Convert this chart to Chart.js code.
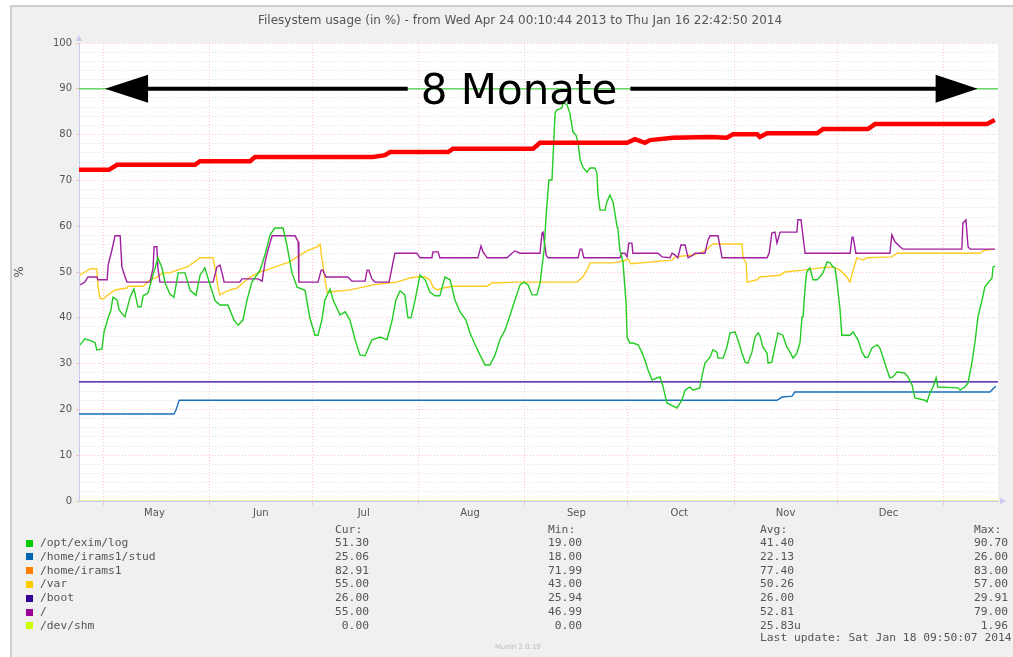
<!DOCTYPE html>
<html>
<head>
<meta charset="utf-8">
<script src="https://cdn.jsdelivr.net/npm/chart.js@4/dist/chart.umd.min.js"></script>
<style>
  html, body { margin: 0; padding: 0; background: #fff; }
  #wrap { position: relative; width: 1013px; height: 657px; overflow: hidden; }
  #chart { position: absolute; left: 0; top: 0; }
  .lg { position: absolute; font-family: "DejaVu Sans Mono", monospace; font-size: 11.3px; color: #555; white-space: pre; line-height: 14px; }
  .sw { position: absolute; width: 7px; height: 7px; }
</style>
</head>
<body>
<div id="wrap">
  <canvas id="chart" width="1013" height="657"></canvas>
  <div id="legend"></div>
</div>
<script>
// x values are days since Wed Apr 24 00:10:44 2013
const periodDays = 267.94;
const chartTitle = 'Filesystem usage (in %) - from Wed Apr 24 00:10:44 2013 to Thu Jan 16 22:42:50 2014';

const monthStarts = [7, 38, 68, 99, 130, 160, 191, 221, 252];
const monthLabelDays = [22, 53, 83, 114, 145, 175, 206, 236];
const monthNames = ['May', 'Jun', 'Jul', 'Aug', 'Sep', 'Oct', 'Nov', 'Dec'];

// /opt/exim/log
const eximDays = [
  0.3, 1.7, 3.8, 4.7, 5.2, 6.7, 7.3, 8.5, 9.3, 9.9,
  11.1, 11.7, 13.4, 14.9, 16.0, 17.2, 18.1, 18.7, 20.1, 21.0,
  22.2, 23.0, 24.2, 25.1, 26.5, 27.7, 28.9, 30.9, 32.4, 34.1,
  35.3, 36.7, 38.2, 39.7, 41.1, 43.4, 45.2, 46.4, 47.8, 49.0,
  50.4, 52.8, 54.2, 55.7, 57.1, 59.5, 60.6, 62.1, 63.6, 65.9,
  67.3, 68.8, 69.7, 70.8, 71.7, 73.2, 74.1, 76.1, 77.6, 79.0,
  80.5, 81.9, 83.4, 85.4, 87.8, 89.8, 91.3, 92.4, 93.6, 95.0,
  95.9, 96.8, 98.0, 99.4, 100.9, 102.3, 103.8, 105.2, 106.7, 108.2,
  109.6, 111.1, 112.8, 114.0, 115.5, 116.9, 118.4, 119.8, 121.3, 122.7,
  124.2, 125.7, 127.1, 128.6, 129.7, 130.9, 132.1, 133.5, 134.4, 135.6,
  136.2, 137.0, 137.9, 138.8, 139.4, 140.8, 141.1, 142.3, 143.1, 144.0,
  144.9, 145.5, 146.1, 146.9, 148.1, 149.0, 150.4, 151.0, 151.3, 151.9,
  153.4, 153.9, 154.8, 155.7, 156.9, 157.1, 157.7, 158.6, 159.5, 159.8,
  160.6, 161.5, 163.0, 164.1, 165.0, 165.9, 167.1, 168.2, 169.4, 170.3,
  171.4, 173.8, 174.3, 175.8, 176.7, 178.1, 179.0, 181.0, 181.6, 182.5,
  184.0, 184.8, 186.0, 186.3, 187.8, 188.9, 189.8, 191.3, 192.1, 193.3,
  194.2, 195.0, 196.2, 197.1, 198.0, 198.5, 199.4, 200.6, 200.9, 202.0,
  202.9, 203.8, 205.2, 206.4, 207.3, 208.2, 209.3, 210.2, 210.8, 211.1,
  211.7, 212.2, 213.1, 214.0, 215.2, 216.0, 216.9, 218.1, 219.0, 219.8,
  220.4, 221.0, 221.9, 222.4, 224.8, 225.7, 227.1, 228.3, 229.2, 230.0,
  231.2, 232.7, 233.5, 234.4, 235.6, 236.4, 237.3, 238.5, 240.8, 241.7,
  242.9, 243.7, 246.6, 247.2, 248.1, 249.0, 249.9, 250.4, 256.3, 256.9,
  258.3, 259.2, 260.3, 261.2, 262.1, 263.3, 264.1, 265.0, 266.2, 266.5,
  267.1
];
const eximVals = [
  34.1, 35.4, 34.9, 34.5, 33.0, 33.2, 36.9, 40.0, 41.7, 44.5,
  43.9, 41.7, 40.2, 44.5, 46.3, 42.4, 42.4, 44.8, 45.4, 47.8,
  50.9, 53.1, 50.9, 47.6, 45.2, 44.5, 49.8, 49.8, 46.0, 44.9,
  49.3, 50.9, 47.2, 43.7, 42.8, 42.8, 39.5, 38.4, 39.5, 43.9,
  47.8, 50.4, 53.7, 58.1, 59.6, 59.6, 55.9, 49.8, 46.7, 46.0,
  40.0, 36.2, 36.2, 39.5, 43.9, 46.3, 43.9, 40.6, 41.3, 39.5,
  35.2, 31.9, 31.7, 35.2, 35.8, 35.2, 39.5, 43.9, 45.9, 45.0,
  40.0, 40.0, 43.9, 49.3, 48.3, 45.6, 44.8, 44.8, 48.9, 48.3,
  43.9, 41.3, 39.5, 36.7, 34.1, 31.9, 29.7, 29.7, 31.9, 35.2,
  37.3, 40.6, 43.9, 47.2, 47.8, 47.2, 45.0, 45.0, 47.5, 54.8,
  62.4, 70.1, 70.1, 84.7, 85.4, 85.8, 87.1, 86.5, 84.7, 80.6,
  79.9, 78.2, 74.5, 72.9, 71.8, 72.7, 72.7, 71.6, 67.2, 63.5,
  63.5, 65.3, 66.8, 65.3, 59.8, 59.6, 54.8, 52.2, 43.2, 35.8,
  34.5, 34.5, 34.1, 32.5, 30.8, 28.6, 26.4, 26.8, 27.1, 24.9,
  21.4, 20.5, 20.3, 22.0, 24.2, 24.9, 24.2, 24.7, 27.1, 30.1,
  31.4, 33.0, 32.5, 31.2, 31.2, 33.6, 36.7, 36.9, 35.2, 32.3,
  30.3, 30.1, 32.5, 35.8, 36.7, 36.2, 33.6, 32.3, 30.1, 30.3,
  33.6, 36.7, 36.2, 33.6, 32.5, 31.2, 32.3, 34.5, 40.2, 40.2,
  46.7, 50.0, 50.9, 48.3, 48.3, 48.9, 49.8, 52.2, 52.0, 51.1,
  50.9, 47.8, 41.7, 36.2, 36.2, 36.9, 35.2, 32.5, 31.4, 31.4,
  33.4, 34.1, 33.4, 31.4, 28.6, 26.9, 27.1, 28.2, 27.9, 27.1,
  25.3, 22.5, 22.0, 21.6, 23.6, 24.9, 26.9, 24.9, 24.7, 24.2,
  24.9, 25.8, 30.1, 34.5, 40.2, 43.9, 46.7, 47.6, 48.7, 51.1,
  51.3
];

// /home/irams1/stud
const studDays = [0, 27.7, 28.3, 29.2, 203.5, 205.0, 207.9, 208.7, 265.6, 267.3];
const studVals = [19.0, 19.0, 19.9, 22.0, 22.0, 22.7, 22.9, 23.8, 23.8, 25.1];

// /home/irams1
const homeDays = [0, 8.7, 11.1, 33.8, 35.3, 49.9, 51.3, 85.7, 89.2, 90.7,
  107.6, 109.0, 132.4, 134.4, 159.8, 162.1, 165.0, 166.5, 173.2, 184.0,
  188.9, 190.7, 197.7, 198.5, 200.6, 215.2, 216.9, 230.0, 232.1, 264.7, 267.0];
const homeVals = [72.3, 72.3, 73.4, 73.4, 74.2, 74.2, 75.1, 75.1, 75.5, 76.2,
  76.2, 76.9, 76.9, 78.2, 78.2, 79.0, 78.2, 78.8, 79.3, 79.5,
  79.3, 80.1, 80.1, 79.5, 80.3, 80.3, 81.2, 81.2, 82.3, 82.3, 83.2];

// /var
const varDays = [
  0.3, 1.7, 3.2, 5.2, 5.5, 6.1, 7.0, 8.5, 10.5, 14.0,
  14.3, 18.7, 20.7, 22.7, 24.5, 26.5, 28.6, 31.5, 34.4, 35.3,
  39.1, 39.9, 40.5, 41.1, 42.0, 44.0, 46.1, 47.8, 49.9, 52.8,
  55.7, 58.6, 61.5, 63.6, 66.5, 69.4, 70.3, 70.8, 72.3, 79.0,
  82.8, 85.7, 89.8, 92.7, 96.5, 98.5, 100.9, 102.3, 103.2, 104.4,
  106.1, 109.0, 119.0, 120.4, 127.7, 145.2, 146.9, 148.1, 149.0, 155.7,
  158.6, 160.1, 160.9, 172.9, 173.8, 179.0, 181.9, 183.4, 184.8, 193.3,
  193.6, 194.5, 194.8, 197.7, 198.5, 204.4, 205.8, 211.1, 216.0, 219.8,
  221.9, 223.9, 224.8, 225.7, 226.8, 228.6, 229.7, 237.0, 238.5, 262.7,
  263.6, 264.7, 266.5
];
const varVals = [
  49.3, 50.0, 50.7, 50.7, 47.2, 44.3, 44.1, 45.0, 46.1, 46.5,
  46.9, 46.9, 48.3, 48.9, 49.8, 49.8, 50.4, 51.1, 52.6, 53.1,
  53.1, 49.8, 46.7, 45.0, 45.4, 46.1, 46.5, 47.6, 48.9, 50.0,
  50.7, 51.5, 52.2, 53.3, 54.6, 55.5, 56.1, 53.0, 45.6, 46.1,
  46.7, 47.2, 47.6, 47.8, 48.7, 48.9, 48.9, 48.3, 46.7, 46.1,
  46.5, 46.9, 46.9, 47.6, 47.8, 47.8, 48.9, 50.4, 52.0, 52.0,
  52.4, 52.8, 51.8, 52.6, 53.3, 53.7, 54.4, 55.2, 56.1, 56.1,
  53.1, 52.0, 47.8, 48.3, 48.9, 49.3, 50.0, 50.4, 50.9, 51.1,
  50.4, 48.9, 47.8, 50.4, 53.1, 52.6, 53.1, 53.3, 54.1, 54.1,
  54.6, 54.8, 55.0
];

// /boot
const bootDays = [0, periodDays];
const bootVals = [26.0, 26.0];

// /
const rootDays = [
  0.3, 1.7, 2.6, 5.2, 5.5, 8.2, 8.5, 9.6, 10.5, 12.0,
  12.5, 13.4, 14.0, 20.7, 21.6, 21.9, 22.7, 23.0, 23.6, 39.1,
  40.2, 41.1, 42.0, 42.3, 46.9, 47.5, 52.2, 53.4, 54.2, 55.1,
  56.3, 63.0, 63.9, 64.1, 69.7, 70.6, 71.1, 72.0, 78.4, 79.6,
  83.4, 84.0, 84.5, 85.4, 86.3, 90.4, 91.3, 92.1, 98.5, 99.4,
  102.9, 103.2, 104.7, 105.2, 116.3, 117.2, 117.8, 119.0, 124.8, 126.2,
  127.1, 128.6, 134.4, 135.0, 135.3, 136.2, 136.7, 145.5, 146.1, 146.6,
  147.2, 157.7, 158.3, 159.2, 159.8, 160.3, 161.2, 161.5, 168.8, 170.0,
  172.3, 172.9, 173.8, 174.6, 175.5, 176.7, 177.6, 179.0, 179.6, 182.5,
  183.4, 184.0, 186.3, 187.5, 200.6, 201.2, 202.0, 202.9, 203.5, 204.4,
  209.3, 209.6, 210.5, 211.7, 224.8, 225.4, 225.7, 226.5, 236.4, 237.0,
  237.9, 239.4, 240.2, 257.4, 257.7, 258.6, 259.2, 259.8, 267.1
];
const rootVals = [
  47.2, 47.8, 48.9, 48.9, 48.3, 48.3, 51.5, 54.8, 57.9, 57.9,
  51.1, 49.0, 47.8, 47.8, 50.9, 55.5, 55.5, 50.9, 47.8, 47.8,
  51.1, 51.5, 48.9, 47.8, 47.8, 48.5, 48.5, 48.0, 52.0, 54.8,
  57.9, 57.9, 56.6, 47.8, 47.8, 50.4, 50.4, 48.9, 48.9, 48.0,
  48.0, 50.4, 50.4, 48.5, 47.8, 47.8, 51.1, 54.1, 54.1, 53.1,
  53.1, 54.4, 54.4, 53.1, 53.1, 55.7, 54.4, 53.1, 53.1, 54.1,
  54.6, 54.1, 54.1, 58.5, 58.7, 53.7, 53.1, 53.1, 55.0, 55.0,
  53.1, 53.1, 54.1, 54.1, 53.3, 56.3, 56.3, 54.1, 54.1, 53.3,
  53.1, 54.1, 53.7, 53.1, 55.9, 55.9, 53.1, 53.7, 54.1, 54.1,
  57.0, 57.9, 57.9, 53.1, 53.1, 54.1, 58.5, 58.7, 56.3, 58.7,
  58.7, 61.4, 61.4, 54.1, 54.1, 57.6, 57.6, 54.1, 54.1, 58.1,
  56.6, 55.5, 55.0, 55.0, 60.7, 61.4, 55.5, 55.0, 55.0
];

// /dev/shm
const shmDays = [0, periodDays];
const shmVals = [0, 0];

// warning level line
const warnDays = [0, periodDays];
const warnVals = [90, 90];

// "8 Monate" span marker
const spanLabel = '8 Monate';
const spanFromDay = 7.6;
const spanToDay = 262;
const spanLabelDay = 128.3;
const spanLevel = 90;

// legend table
const legendNames = ['/opt/exim/log', '/home/irams1/stud', '/home/irams1', '/var', '/boot', '/', '/dev/shm'];
const legendColors = ['#00cc00', '#0066b3', '#ff8000', '#ffcc00', '#330099', '#990099', '#ccff00'];
const curVals = ['51.30', '25.06', '82.91', '55.00', '26.00', '55.00', '0.00'];
const minVals = ['19.00', '18.00', '71.99', '43.00', '25.94', '46.99', '0.00'];
const avgVals = ['41.40', '22.13', '77.40', '50.26', '26.00', '52.81', '25.83u'];
const maxVals = ['90.70', '26.00', '83.00', '57.00', '29.91', '79.00', '1.96'];
const lastUpdate = 'Last update: Sat Jan 18 09:50:07 2014';
const versionText = 'Munin 2.0.19';

const majorGrid = 'rgba(245,120,120,0.42)';
const minorGrid = 'rgba(170,170,170,0.32)';

function toPts(days, vals) {
  return days.map((d, i) => ({ x: d, y: vals[i] }));
}

function line(data, color, width) {
  return { data: data, borderColor: color, borderWidth: width, pointRadius: 0, tension: 0, fill: false };
}

const backdrop = {
  id: 'backdrop',
  beforeDraw(chart) {
    const { ctx, chartArea: a, width, height } = chart;
    ctx.save();
    ctx.fillStyle = '#fff';
    ctx.fillRect(0, 0, width, height);
    ctx.fillStyle = '#f0f0f0';
    ctx.fillRect(10, 5, width - 10, height - 5);
    ctx.strokeStyle = '#cfcfcf';
    ctx.lineWidth = 2;
    ctx.beginPath();
    ctx.moveTo(11, height);
    ctx.lineTo(11, 6);
    ctx.lineTo(width, 6);
    ctx.stroke();
    ctx.fillStyle = '#fff';
    ctx.fillRect(a.left, a.top, a.right - a.left, a.bottom - a.top);
    ctx.fillStyle = '#555';
    ctx.font = '12px "DejaVu Sans"';
    ctx.textAlign = 'center';
    ctx.textBaseline = 'middle';
    ctx.fillText(chartTitle, 520, 21);
    ctx.restore();
  },
  afterDraw(chart) {
    const { ctx, chartArea: a } = chart;
    ctx.save();
    ctx.fillStyle = '#c8c8f0';
    ctx.beginPath();
    ctx.moveTo(a.left - 3, a.top - 2);
    ctx.lineTo(a.left + 3, a.top - 2);
    ctx.lineTo(a.left, a.top - 8);
    ctx.closePath();
    ctx.fill();
    ctx.beginPath();
    ctx.moveTo(a.right + 2, a.bottom - 3);
    ctx.lineTo(a.right + 2, a.bottom + 3);
    ctx.lineTo(a.right + 8, a.bottom);
    ctx.closePath();
    ctx.fill();
    ctx.restore();
  }
};

const spanMarker = {
  id: 'spanMarker',
  afterDatasetsDraw(chart) {
    const { ctx } = chart;
    const xs = chart.scales.x, ys = chart.scales.y;
    const y = ys.getPixelForValue(spanLevel);
    const x1 = xs.getPixelForValue(spanFromDay);
    const x2 = xs.getPixelForValue(spanToDay);
    const cx = xs.getPixelForValue(spanLabelDay);
    ctx.save();
    ctx.font = '42px "DejaVu Sans"';
    const w = ctx.measureText(spanLabel).width;
    ctx.fillStyle = '#000';
    ctx.strokeStyle = '#000';
    ctx.textAlign = 'center';
    ctx.textBaseline = 'alphabetic';
    ctx.fillText(spanLabel, cx, y + 15);
    ctx.lineWidth = 4;
    ctx.beginPath();
    ctx.moveTo(x1 + 40, y);
    ctx.lineTo(cx - w / 2 - 13, y);
    ctx.moveTo(cx + w / 2 + 13, y);
    ctx.lineTo(x2 - 40, y);
    ctx.stroke();
    ctx.beginPath();
    ctx.moveTo(x1, y);
    ctx.lineTo(x1 + 43, y - 14);
    ctx.lineTo(x1 + 43, y + 14);
    ctx.closePath();
    ctx.moveTo(x2, y);
    ctx.lineTo(x2 - 42, y - 14);
    ctx.lineTo(x2 - 42, y + 14);
    ctx.closePath();
    ctx.fill();
    ctx.restore();
  }
};

const ctx = document.getElementById('chart').getContext('2d');
new Chart(ctx, {
  type: 'line',
  data: {
    datasets: [
      line(toPts(homeDays, homeVals), '#ff0000', 4.5),
      line(toPts(eximDays, eximVals), '#22cc22', 1.4),
      line(toPts(rootDays, rootVals), '#a020a0', 1.4),
      line(toPts(varDays, varVals), '#ffcc22', 1.4),
      line(toPts(studDays, studVals), '#1a6fb8', 1.4),
      line(toPts(bootDays, bootVals), '#330099', 1.2),
      line(toPts(shmDays, shmVals), '#ccee44', 1.2),
      line(toPts(warnDays, warnVals), '#44cc44', 1.2)
    ]
  },
  options: {
    responsive: false,
    animation: false,
    events: [],
    layout: { padding: { left: 0, top: 43, right: 15, bottom: 126 } },
    plugins: {
      legend: { display: false },
      title: { display: false },
      tooltip: { enabled: false }
    },
    scales: {
      x: {
        type: 'linear',
        min: 0,
        max: periodDays,
        afterBuildTicks: scale => {
          scale.ticks = monthStarts.concat(monthLabelDays).sort((a, b) => a - b).map(v => ({ value: v }));
        },
        afterFit: scale => { scale.height = 30; },
        grid: {
          color: c => (c.tick && monthStarts.includes(c.tick.value)) ? majorGrid : 'rgba(0,0,0,0)',
          tickColor: c => (c.tick && monthStarts.includes(c.tick.value)) ? majorGrid : 'rgba(0,0,0,0)',
          tickLength: 4,
          lineWidth: 1
        },
        border: { display: true, color: '#c8c8f0', dash: [1, 2] },
        ticks: {
          autoSkip: false,
          maxRotation: 0,
          padding: 2,
          color: '#555',
          font: { family: 'DejaVu Sans', size: 10 },
          callback: function (value) {
            const i = monthLabelDays.indexOf(value);
            return i >= 0 ? monthNames[i] : '';
          }
        }
      },
      y: {
        min: 0,
        max: 100,
        afterBuildTicks: scale => {
          const t = [];
          for (let v = 0; v <= 100; v += 2) t.push({ value: v });
          scale.ticks = t;
        },
        afterFit: scale => { scale.width = 79; },
        grid: {
          color: c => (c.tick && c.tick.value % 10 === 0) ? majorGrid : minorGrid,
          tickColor: c => (c.tick && c.tick.value % 10 === 0) ? majorGrid : 'rgba(0,0,0,0)',
          tickLength: 3,
          lineWidth: 1
        },
        border: { display: true, color: '#c8c8f0', dash: [1, 2] },
        ticks: {
          autoSkip: false,
          padding: 4,
          color: '#555',
          font: { family: 'DejaVu Sans', size: 10 },
          callback: v => (v % 10 === 0 ? String(v) : '')
        },
        title: {
          display: true,
          text: '%',
          color: '#555',
          font: { family: 'DejaVu Sans', size: 12 },
          padding: { top: 13, bottom: 0 }
        }
      }
    }
  },
  plugins: [backdrop, spanMarker]
});

// legend below the plot
const legend = document.getElementById('legend');
function addText(text, left, centerY, extra) {
  const d = document.createElement('div');
  d.className = 'lg';
  d.textContent = text;
  d.style.left = left + 'px';
  d.style.top = (centerY - 7) + 'px';
  if (extra) Object.assign(d.style, extra);
  legend.appendChild(d);
}
const colCur = 335, colMin = 548, colAvg = 760, colMax = 974;
addText('Cur:', colCur, 530);
addText('Min:', colMin, 530);
addText('Avg:', colAvg, 530);
addText('Max:', colMax, 530);
legendNames.forEach((name, i) => {
  const yc = 543 + i * 13.8;
  const sw = document.createElement('div');
  sw.className = 'sw';
  sw.style.left = '26px';
  sw.style.top = (yc - 3.5) + 'px';
  sw.style.background = legendColors[i];
  legend.appendChild(sw);
  addText(name, 40, yc);
  addText(curVals[i].padStart(5), colCur, yc);
  addText(minVals[i].padStart(5), colMin, yc);
  addText(avgVals[i].padStart(5), colAvg, yc);
  addText(maxVals[i].padStart(5), colMax, yc);
});
addText(lastUpdate, colAvg, 638);
addText(versionText, 495, 647, { fontFamily: '"DejaVu Sans", sans-serif', fontSize: '7px', color: '#bbb' });
</script>
</body>
</html>
